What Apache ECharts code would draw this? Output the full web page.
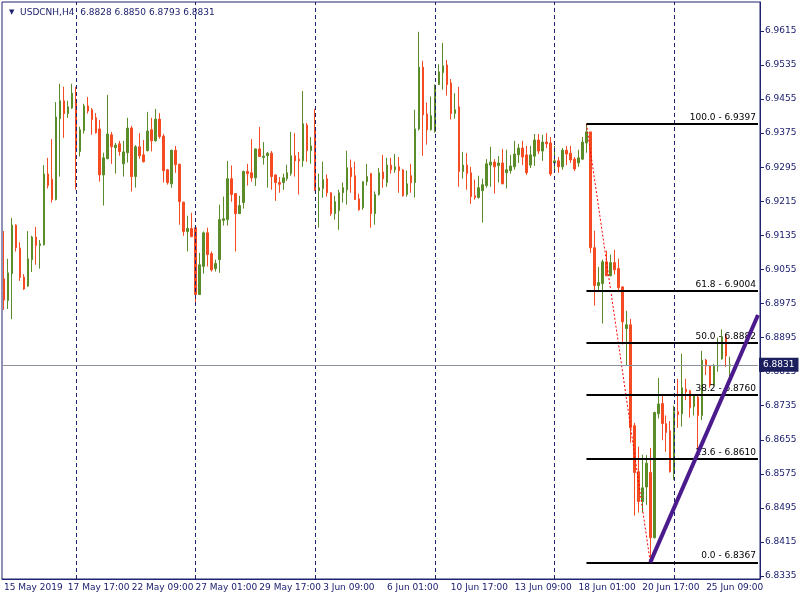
<!DOCTYPE html>
<html>
<head>
<meta charset="utf-8">
<script src="https://cdn.jsdelivr.net/npm/echarts@6/dist/echarts.min.js"></script>
<style>html,body{margin:0;padding:0;background:#fff}#c{width:800px;height:600px}</style>
</head>
<body>
<div id="c"></div>
<script>
// ---------------- data ----------------
const opens = [6.9033,6.8982,6.9045,6.9159,6.9105,6.9037,6.9016,6.9078,6.9131,6.9111,
6.9113,6.9279,6.9267,6.9219,6.9409,6.9451,6.9421,6.9434,6.9448,6.9332,
6.9381,6.9439,6.9430,6.9411,6.9385,6.9277,6.9315,6.9371,6.9341,6.9350,
6.9303,6.9329,6.9387,6.9273,6.9343,6.9324,6.9334,6.9383,6.9357,6.9408,
6.9368,6.9289,6.9256,6.9335,6.9302,6.9213,6.9144,6.9151,6.9153,6.8996,
6.9062,6.9141,6.9092,6.9057,6.9078,6.9170,6.9172,6.9268,6.9233,6.9186,
6.9212,6.9285,6.9282,6.9270,6.9338,6.9318,6.9322,6.9328,6.9277,6.9259,
6.9259,6.9268,6.9280,6.9322,6.9314,6.9310,6.9394,6.9334,6.9385,6.9240,
6.9245,6.9268,6.9235,6.9186,6.9193,6.9235,6.9242,6.9294,6.9275,6.9221,
6.9200,6.9261,6.9280,6.9186,6.9231,6.9284,6.9259,6.9300,6.9289,6.9296,
6.9289,6.9231,6.9275,6.9259,6.9385,6.9530,6.9420,6.9383,6.9379,6.9489,
6.9517,6.9535,6.9493,6.9421,6.9437,6.9285,6.9300,6.9282,6.9228,6.9224,
6.9240,6.9252,6.9300,6.9307,6.9299,6.9305,6.9282,6.9287,6.9296,6.9324,
6.9340,6.9324,6.9300,6.9321,6.9359,6.9333,6.9354,6.9352,6.9305,6.9310,
6.9296,6.9335,6.9328,6.9314,6.9305,6.9314,6.9352,6.9378,6.9106,6.9017,
6.9022,6.9073,6.9040,6.9071,6.9057,6.9014,6.8916,6.8925,6.8688,6.8580,
6.8510,6.8544,6.8578,6.8425,6.8716,6.8740,6.8693,6.8676,6.8580,6.8721,
6.8716,6.8774,6.8770,6.8733,6.8755,6.8712,6.8842,6.8828,6.8783,6.8828,
6.8845,6.8897,6.8828];
const closes = [6.8983,6.9047,6.9159,6.9106,6.9036,6.9009,6.9080,6.9131,6.9111,6.9115,
6.9279,6.9252,6.9219,6.9413,6.9451,6.9421,6.9437,6.9469,6.9332,6.9383,
6.9439,6.9427,6.9407,6.9376,6.9277,6.9317,6.9373,6.9343,6.9347,6.9332,
6.9331,6.9387,6.9273,6.9343,6.9322,6.9308,6.9380,6.9357,6.9408,6.9367,
6.9287,6.9259,6.9335,6.9301,6.9214,6.9144,6.9151,6.9132,6.8996,6.9066,
6.9141,6.9090,6.9054,6.9069,6.9172,6.9174,6.9268,6.9231,6.9186,6.9205,
6.9285,6.9280,6.9270,6.9338,6.9320,6.9321,6.9328,6.9273,6.9259,6.9255,
6.9270,6.9282,6.9322,6.9310,6.9310,6.9397,6.9334,6.9345,6.9240,6.9247,
6.9266,6.9235,6.9186,6.9214,6.9235,6.9247,6.9294,6.9273,6.9219,6.9195,
6.9261,6.9273,6.9186,6.9231,6.9282,6.9268,6.9300,6.9289,6.9296,6.9287,
6.9228,6.9256,6.9259,6.9385,6.9530,6.9418,6.9383,6.9416,6.9488,6.9519,
6.9533,6.9489,6.9421,6.9430,6.9285,6.9300,6.9280,6.9226,6.9224,6.9247,
6.9254,6.9303,6.9307,6.9296,6.9305,6.9256,6.9289,6.9298,6.9326,6.9340,
6.9319,6.9282,6.9324,6.9359,6.9333,6.9354,6.9350,6.9279,6.9310,6.9296,
6.9335,6.9326,6.9312,6.9291,6.9317,6.9354,6.9378,6.9106,6.9017,6.9024,
6.9073,6.9040,6.9071,6.9054,6.9012,6.8932,6.8925,6.8683,6.8578,6.8510,
6.8542,6.8600,6.8425,6.8719,6.8739,6.8693,6.8672,6.8580,6.8721,6.8714,
6.8777,6.8768,6.8730,6.8760,6.8712,6.8842,6.8828,6.8783,6.8828,6.8830,
6.8897,6.8852,6.8831];
const lows = [6.8960,6.8962,6.8938,6.9097,6.9028,6.9007,6.9014,6.9049,6.9066,6.9057,
6.9111,6.9245,6.9212,6.9217,6.9273,6.9364,6.9411,6.9432,6.9242,6.9320,
6.9374,6.9421,6.9371,6.9374,6.9261,6.9205,6.9314,6.9303,6.9280,6.9322,
6.9273,6.9306,6.9238,6.9247,6.9315,6.9306,6.9332,6.9332,6.9355,6.9362,
6.9259,6.9254,6.9247,6.9282,6.9160,6.9134,6.9097,6.9131,6.8972,6.8995,
6.9045,6.9062,6.9050,6.9050,6.9047,6.9158,6.9158,6.9214,6.9097,6.9185,
6.9198,6.9252,6.9261,6.9251,6.9319,6.9301,6.9247,6.9242,6.9216,6.9235,
6.9242,6.9263,6.9275,6.9273,6.9231,6.9296,6.9308,6.9303,6.9239,6.9153,
6.9223,6.9226,6.9181,6.9172,6.9148,6.9212,6.9207,6.9235,6.9218,6.9193,
6.9195,6.9252,6.9153,6.9160,6.9228,6.9247,6.9249,6.9280,6.9282,6.9235,
6.9226,6.9226,6.9235,6.9224,6.9381,6.9322,6.9348,6.9381,6.9376,6.9488,
6.9477,6.9463,6.9407,6.9409,6.9249,6.9268,6.9242,6.9209,6.9219,6.9221,
6.9165,6.9247,6.9249,6.9233,6.9259,6.9255,6.9245,6.9280,6.9289,6.9305,
6.9300,6.9277,6.9293,6.9298,6.9326,6.9310,6.9340,6.9274,6.9284,6.9282,
6.9289,6.9300,6.9305,6.9286,6.9296,6.9312,6.9329,6.9094,6.8970,6.9003,
6.8928,6.9039,6.9039,6.9043,6.9005,6.8879,6.8829,6.8648,6.8477,6.8484,
6.8484,6.8502,6.8367,6.8423,6.8705,6.8654,6.8627,6.8578,6.8561,6.8683,
6.8686,6.8748,6.8707,6.8712,6.8613,6.8701,6.8807,6.8777,6.8782,6.8815,
6.8843,6.8826,6.8793];
const highs = [6.9145,6.9080,6.9176,6.9161,6.9119,6.9044,6.9145,6.9134,6.9155,6.9124,
6.9300,6.9317,6.9361,6.9448,6.9491,6.9484,6.9451,6.9491,6.9484,6.9390,
6.9444,6.9460,6.9434,6.9422,6.9406,6.9329,6.9465,6.9378,6.9352,6.9357,
6.9357,6.9411,6.9392,6.9347,6.9375,6.9359,6.9425,6.9411,6.9432,6.9422,
6.9373,6.9291,6.9336,6.9345,6.9303,6.9214,6.9181,6.9188,6.9154,6.9094,
6.9144,6.9153,6.9097,6.9078,6.9207,6.9226,6.9310,6.9299,6.9234,6.9228,
6.9287,6.9303,6.9361,6.9339,6.9390,6.9354,6.9331,6.9333,6.9278,6.9272,
6.9280,6.9301,6.9378,6.9375,6.9331,6.9474,6.9399,6.9366,6.9432,6.9280,
6.9308,6.9278,6.9236,6.9228,6.9242,6.9259,6.9334,6.9313,6.9308,6.9233,
6.9262,6.9303,6.9281,6.9238,6.9293,6.9324,6.9317,6.9317,6.9326,6.9319,
6.9290,6.9287,6.9303,6.9430,6.9613,6.9545,6.9447,6.9461,6.9489,6.9537,
6.9587,6.9547,6.9502,6.9469,6.9484,6.9331,6.9328,6.9296,6.9266,6.9275,
6.9268,6.9314,6.9343,6.9314,6.9321,6.9338,6.9336,6.9324,6.9357,6.9350,
6.9357,6.9345,6.9345,6.9373,6.9373,6.9371,6.9375,6.9366,6.9345,6.9319,
6.9340,6.9345,6.9345,6.9319,6.9336,6.9366,6.9397,6.9378,6.9146,6.9061,
6.9078,6.9099,6.9090,6.9101,6.9080,6.9015,6.8958,6.8939,6.8695,6.8639,
6.8620,6.8619,6.8636,6.8721,6.8800,6.8758,6.8712,6.8699,6.8735,6.8798,
6.8857,6.8798,6.8772,6.8761,6.8760,6.8864,6.8845,6.8829,6.8833,6.8895,
6.8914,6.8904,6.8850];

// time axis: bar slots (183 bars + empty shift space on the right)
const slotCount = 190;
const xTickIdx  = [0,16,32,48,64,80,96,112,128,144,160,176];
const xTickText = ['15 May 2019','17 May 17:00','22 May 09:00','27 May 01:00','29 May 17:00','3 Jun 09:00',
                   '6 Jun 01:00','10 Jun 17:00','13 Jun 09:00','18 Jun 01:00','20 Jun 17:00','25 Jun 09:00'];
const weekGridIdx = [18,48,78,108,138,168];
const yTicks = [6.8335,6.8415,6.8495,6.8575,6.8655,6.8735,6.8815,6.8895,6.8975,6.9055,
                6.9135,6.9215,6.9295,6.9375,6.9455,6.9535,6.9615];
const yMin = 6.8328, yMax = 6.9683;

// Fibonacci retracement (high bar 146 -> low bar 162)
const fibLevels = [0.0, 23.6, 38.2, 50.0, 61.8, 100.0];
const fibPrices = [6.8367, 6.8610, 6.8760, 6.8882, 6.9004, 6.9397];
const fibAnchorIdx = [146, 162];
const fibAnchorPrice = [6.9397, 6.8367];
// trend line from the low
const trendIdx = [162, 189];
const trendPrice = [6.8367, 6.8948];
const symbolName = 'USDCNH,H4';

// ---------------- chart ----------------
const NAVY = '#1e2270';
const GREEN = '#5b8c2a';
const RED = '#f44b22';
const FONT = 'DejaVu Sans';
const categories = [];
for (let i = 0; i < slotCount; i++) categories.push(String(i));
const candles = opens.map((o, i) => [o, closes[i], lows[i], highs[i]]);
const last = opens.length - 1;
const lastClose = closes[last];
const tickSet = new Set(xTickIdx);

const chart = echarts.init(document.getElementById('c'), null, {renderer: 'canvas'});
chart.setOption({
  animation: false,
  backgroundColor: '#ffffff',
  title: {
    left: 4, top: 3,
    text: '{t|▼}  ' + symbolName + '  ' + [opens[last], highs[last], lows[last], closes[last]].map(v => v.toFixed(4)).join(' '),
    textStyle: {
      fontFamily: FONT, fontSize: 9, fontWeight: 'normal', color: NAVY,
      rich: { t: { fontSize: 7, color: NAVY, fontFamily: FONT } }
    }
  },
  grid: { left: 2, right: 40, top: 2, bottom: 21, show: true, borderColor: NAVY, borderWidth: 1, backgroundColor: '#fff' },
  xAxis: {
    type: 'category', data: categories, boundaryGap: true,
    axisLine: { lineStyle: { color: NAVY, width: 1 } },
    axisTick: { alignWithLabel: true, length: 4, interval: (i) => tickSet.has(i), lineStyle: { color: NAVY } },
    axisLabel: {
      interval: (i) => tickSet.has(i),
      formatter: (v, i) => { const k = xTickIdx.indexOf(Number(v)); return k >= 0 ? xTickText[k] : ''; },
      align: 'left', margin: 4, color: NAVY, fontFamily: FONT, fontSize: 9
    },
    splitLine: { show: false }
  },
  yAxis: {
    type: 'value', position: 'right', min: yMin, max: yMax,
    axisLine: { show: true, lineStyle: { color: NAVY, width: 1 } },
    axisTick: { show: true, length: 4, customValues: yTicks, lineStyle: { color: NAVY } },
    axisLabel: { customValues: yTicks, formatter: v => v.toFixed(4), margin: 5, align: 'left', color: NAVY, fontFamily: FONT, fontSize: 9 },
    splitLine: { show: false }
  },
  series: [
    { // weekly dashed grid (behind candles)
      type: 'line', data: [], z: 1, silent: true,
      markLine: {
        silent: true, symbol: ['none', 'none'], animation: false,
        lineStyle: { color: NAVY, type: [4, 3], width: 1 }, label: { show: false },
        data: weekGridIdx.map(i => ({ xAxis: String(i) }))
      }
    },
    {
      type: 'candlestick', data: candles, z: 2, barWidth: 2,
      itemStyle: { color: GREEN, color0: RED, borderColor: GREEN, borderColor0: RED, borderWidth: 1 },
      markLine: {
        silent: true, symbol: ['none', 'none'], animation: false,
        lineStyle: { color: '#8a929c', type: 'solid', width: 1 },
        label: { show: true, position: 'end', distance: 1, formatter: lastClose.toFixed(4),
          color: '#fff', backgroundColor: '#1c1f5e', padding: [3, 4, 2, 4], fontFamily: FONT, fontSize: 9 },
        data: [[{ coord: ['0', lastClose], x: 2 }, { coord: [String(slotCount - 1), lastClose] }]]
      }
    },
    { // fibonacci levels
      type: 'line', data: [], z: 3, silent: true,
      markLine: {
        silent: true, symbol: ['none', 'none'], animation: false,
        lineStyle: { color: '#000', width: 2, type: 'solid' },
        label: { show: true, position: 'insideEndTop', distance: 2, color: '#000', fontFamily: FONT, fontSize: 9 },
        data: fibPrices.map((p, k) => [
          { coord: [String(fibAnchorIdx[0]), p], label: { formatter: fibLevels[k].toFixed(1) + ' - ' + p.toFixed(4) } },
          { coord: [String(slotCount - 1), p] }
        ])
      }
    },
    { // fibonacci diagonal
      type: 'line', z: 4, silent: true, symbol: 'none',
      data: fibAnchorIdx.map((x, k) => [String(x), fibAnchorPrice[k]]),
      lineStyle: { color: '#ff0000', width: 1, type: [2, 2] }
    },
    { // trend line
      type: 'line', z: 5, silent: true, symbol: 'none',
      data: trendIdx.map((x, k) => [String(x), trendPrice[k]]),
      lineStyle: { color: '#4b1a8c', width: 4 }
    }
  ]
});
</script>
</body>
</html>
